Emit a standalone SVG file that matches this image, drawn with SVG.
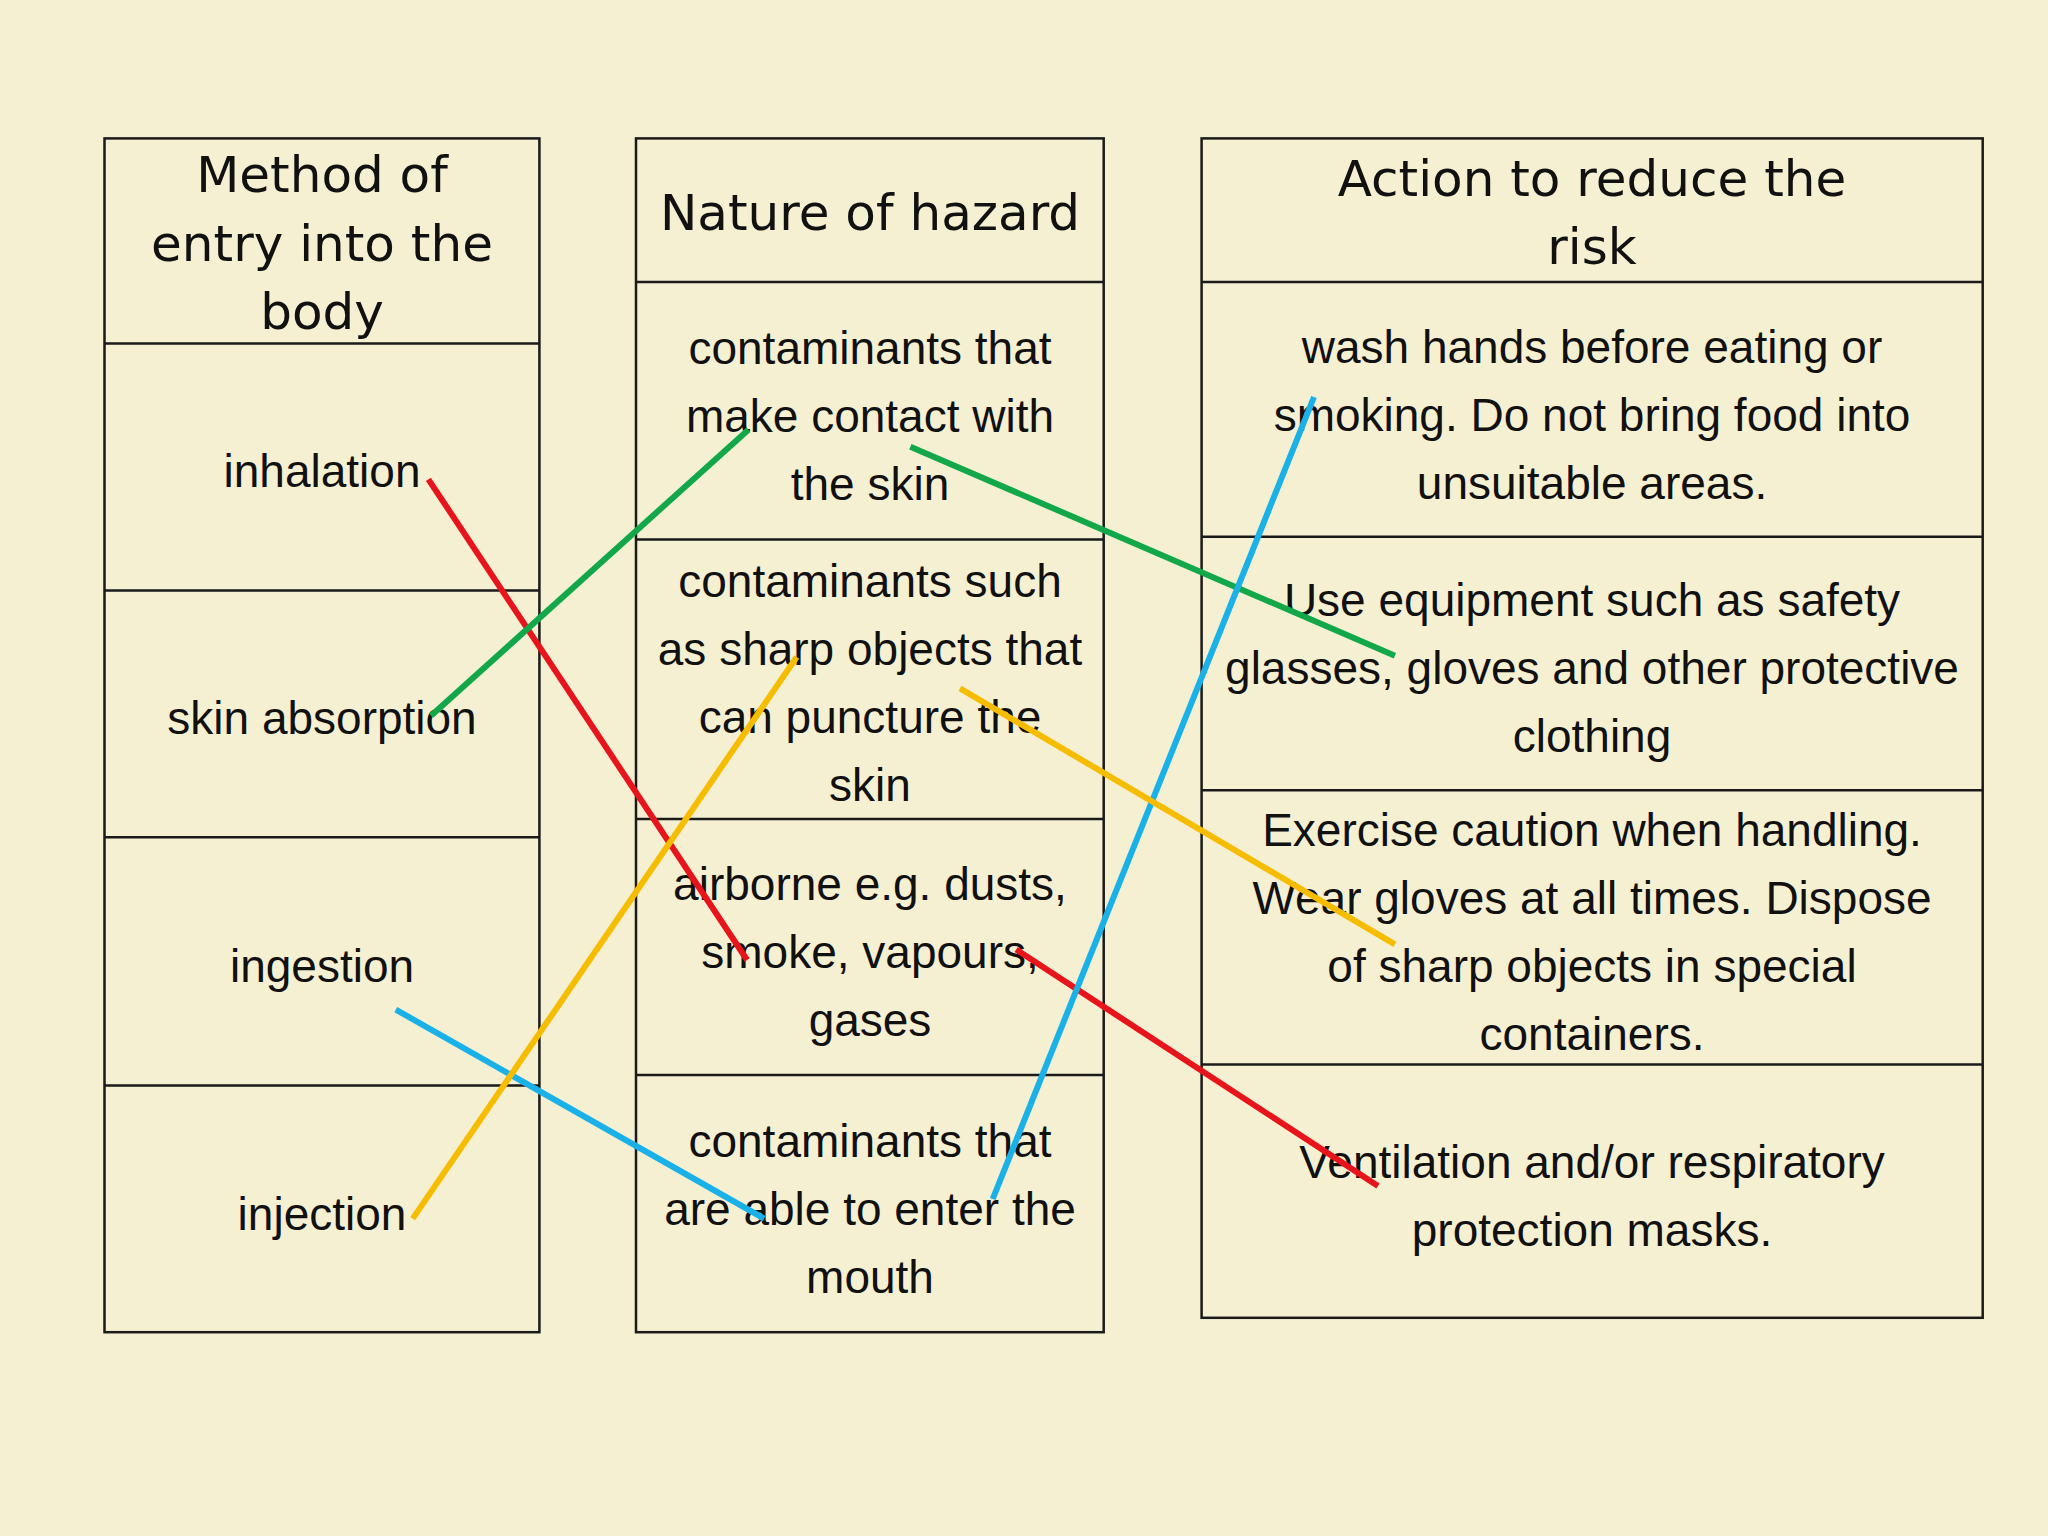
<svg xmlns="http://www.w3.org/2000/svg" width="2048" height="1536" viewBox="0 0 2048 1536">
<style>
.b{fill:none;stroke:#1a1a1a;stroke-width:2.5}
.h{font-family:"DejaVu Sans",sans-serif;font-size:50px;fill:#111;text-anchor:middle}
.t{font-family:"Liberation Sans",Arial,sans-serif;font-size:46px;fill:#111;text-anchor:middle}
.c{stroke-width:6;fill:none}
</style>
<rect width="2048" height="1536" fill="#f6f0d2"/>
<g id="col1">
<rect class="b" x="104.5" y="138.4" width="434.9" height="1193.8"/>
<path class="b" d="M104.5 343.5H539.4M104.5 590.4H539.4M104.5 837.2H539.4M104.5 1085.4H539.4"/>
<text class="h" x="322" y="192">Method of</text>
<text class="h" x="322" y="261">entry into the</text>
<text class="h" x="322" y="329">body</text>
<text class="t" x="322" y="487">inhalation</text>
<text class="t" x="322" y="734">skin absorption</text>
<text class="t" x="322" y="982">ingestion</text>
<text class="t" x="322" y="1230">injection</text>
</g>
<g id="col2">
<rect class="b" x="636" y="138.4" width="467.7" height="1193.8"/>
<path class="b" d="M636 282.1H1103.7M636 539.4H1103.7M636 818.9H1103.7M636 1075H1103.7"/>
<text class="h" x="870" y="230">Nature of hazard</text>
<text class="t" x="870" y="364">contaminants that</text>
<text class="t" x="870" y="432">make contact with</text>
<text class="t" x="870" y="500">the skin</text>
<text class="t" x="870" y="597">contaminants such</text>
<text class="t" x="870" y="665">as sharp objects that</text>
<text class="t" x="870" y="733">can puncture the</text>
<text class="t" x="870" y="801">skin</text>
<text class="t" x="870" y="900">airborne e.g. dusts,</text>
<text class="t" x="870" y="968">smoke, vapours,</text>
<text class="t" x="870" y="1036">gases</text>
<text class="t" x="870" y="1157">contaminants that</text>
<text class="t" x="870" y="1225">are able to enter the</text>
<text class="t" x="870" y="1293">mouth</text>
</g>
<g id="col3">
<rect class="b" x="1201.6" y="138.4" width="781.1" height="1179.4"/>
<path class="b" d="M1201.6 282.1H1982.7M1201.6 536.8H1982.7M1201.6 790.2H1982.7M1201.6 1064.5H1982.7"/>
<text class="h" x="1592" y="196">Action to reduce the</text>
<text class="h" x="1592" y="264">risk</text>
<text class="t" x="1592" y="363">wash hands before eating or</text>
<text class="t" x="1592" y="431">smoking. Do not bring food into</text>
<text class="t" x="1592" y="499">unsuitable areas.</text>
<text class="t" x="1592" y="616">Use equipment such as safety</text>
<text class="t" x="1592" y="684">glasses, gloves and other protective</text>
<text class="t" x="1592" y="752">clothing</text>
<text class="t" x="1592" y="846">Exercise caution when handling.</text>
<text class="t" x="1592" y="914">Wear gloves at all times.  Dispose</text>
<text class="t" x="1592" y="982">of sharp objects in special</text>
<text class="t" x="1592" y="1050">containers.</text>
<text class="t" x="1592" y="1178">Ventilation and/or respiratory</text>
<text class="t" x="1592" y="1246">protection masks.</text>
</g>
<g id="connectors">
<line class="c" stroke="#e8141b" x1="428.4" y1="479.3" x2="747.1" y2="960"/>
<line class="c" stroke="#e8141b" x1="1016.2" y1="949.5" x2="1378" y2="1186"/>
<line class="c" stroke="#12a84a" x1="431" y1="715.8" x2="748.4" y2="429.7"/>
<line class="c" stroke="#12a84a" x1="910.4" y1="446.7" x2="1394.9" y2="655.7"/>
<line class="c" stroke="#1ab0e8" x1="395.8" y1="1009.6" x2="764.1" y2="1218.6"/>
<line class="c" stroke="#1ab0e8" x1="992.7" y1="1199" x2="1314" y2="397"/>
<line class="c" stroke="#f5bc00" x1="412.7" y1="1218.6" x2="796.7" y2="657"/>
<line class="c" stroke="#f5bc00" x1="960" y1="688.3" x2="1394.9" y2="944.3"/>
</g>
</svg>
